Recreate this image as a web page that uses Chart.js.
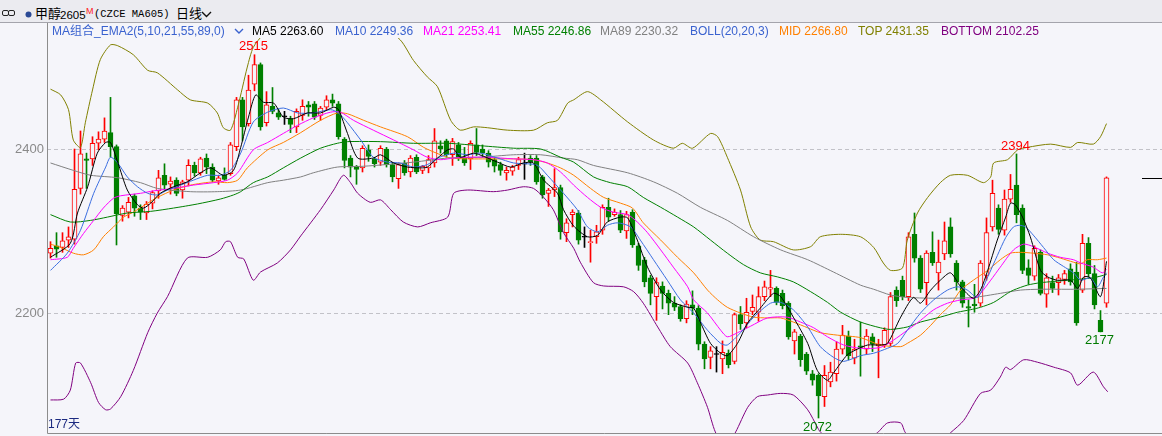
<!DOCTYPE html>
<html>
<head>
<meta charset="utf-8">
<script src="https://cdn.jsdelivr.net/npm/chart.js@4.4.1/dist/chart.umd.min.js"></script>
<style>
    body { margin: 0; background: #f5f5fa; }
    #wrap { position: relative; width: 1162px; height: 436px; overflow: hidden; font-family: "Liberation Sans", "Noto Sans CJK SC", sans-serif; }
    #c { position: absolute; left: 0; top: 0; }
    #topbar { position: absolute; left: 0; top: 0; width: 1162px; height: 22px; background: #ebebf0; border-bottom: 1px solid #a4a4ac; }
    #topbar span, .lg { position: absolute; white-space: nowrap; }
    #topbar span { top: 6px; line-height: 16px; font-size: 13px; color: #000; }
    .lg { top: 24px; line-height: 15px; font-size: 12px; }
    #days { position: absolute; left: 48px; top: 417px; font-size: 12px; line-height: 14px; color: #1c2a80; }
</style>
</head>
<body>
<div id="wrap">
    <canvas id="c" width="1162" height="436"></canvas>
    <div id="topbar">
        <svg style="position:absolute;left:2px;top:10px" width="13" height="6"><rect x="0.5" y="0.5" width="6" height="5" rx="1.5" fill="none" stroke="#222"/><rect x="6.5" y="0.5" width="6" height="5" rx="1.5" fill="none" stroke="#222"/></svg>
        <svg style="position:absolute;left:25px;top:11px" width="7" height="7"><circle cx="3.5" cy="3.5" r="3" fill="#2b4a96"/></svg>
        <span style="left:35px">甲醇</span>
        <span style="left:60px;top:7px;font-size:11.5px">2605</span>
        <span style="left:86px;top:3px;font-size:9px;color:#ff2020">M</span>
        <span style="left:94px;font-family:'Liberation Mono',monospace;font-size:10.5px">(CZCE MA605)</span>
        <span style="left:176px">日线</span>
        <svg style="position:absolute;left:201px;top:11px" width="11" height="7"><polyline points="1,1 5.5,5.5 10,1" fill="none" stroke="#111" stroke-width="1.4"/></svg>
    </div>
    <div id="legend"></div>
    <div id="days">177天</div>
</div>
<script>
// candles, index 0..176
const opens = [2273,2282,2280,2289,2290,2352,2388,2388,2407,2412,
    2420,2403,2319,2323,2343,2328,2322,2334,2349,2368,
    2357,2362,2350,2362,2380,2371,2389,2378,2361,2368,
    2370,2403,2460,2431,2479,2503,2432,2452,2444,2440,
    2437,2427,2441,2454,2455,2441,2451,2460,2455,2412,
    2389,2379,2377,2399,2388,2384,2400,2381,2364,2383,
    2372,2390,2374,2377,2383,2404,2410,2393,2405,2390,
    2388,2405,2400,2395,2387,2381,2371,2373,2380,2382,
    2389,2389,2366,2346,2350,2353,2298,2320,2322,2293,
    2286,2293,2301,2329,2320,2320,2300,2323,2282,2265,
    2243,2220,2233,2224,2212,2208,2193,2210,2206,2162,
    2146,2150,2144,2151,2141,2198,2188,2202,2201,2220,
    2229,2230,2224,2212,2166,2172,2150,2126,2124,2098,
    2116,2126,2156,2172,2145,2160,2156,2171,2160,2161,
    2163,2228,2240,2220,2296,2267,2237,2274,2249,2272,
    2305,2261,2238,2208,2211,2212,2246,2305,2328,2301,
    2339,2356,2328,2255,2245,2274,2223,2237,2237,2241,
    2254,2250,2228,2285,2248,2191,2212];
const highs = [2287,2298,2298,2305,2400,2422,2395,2415,2421,2438,
    2463,2405,2331,2341,2345,2332,2336,2349,2374,2382,
    2366,2365,2362,2387,2384,2390,2394,2382,2368,2377,
    2408,2463,2463,2490,2515,2505,2470,2475,2448,2446,
    2440,2449,2460,2458,2458,2452,2465,2467,2458,2414,
    2392,2380,2404,2405,2390,2404,2402,2383,2383,2386,
    2392,2393,2380,2392,2425,2410,2412,2413,2408,2402,
    2410,2425,2405,2398,2390,2384,2378,2380,2390,2395,
    2392,2392,2368,2352,2376,2356,2315,2326,2325,2305,
    2301,2307,2332,2340,2327,2325,2324,2326,2285,2268,
    2246,2243,2238,2228,2220,2210,2215,2227,2209,2165,
    2159,2159,2166,2155,2200,2208,2218,2222,2232,2239,
    2252,2232,2228,2214,2180,2174,2152,2130,2126,2136,
    2140,2165,2185,2178,2168,2189,2180,2175,2168,2182,
    2225,2232,2245,2298,2322,2270,2276,2299,2289,2311,
    2316,2264,2240,2216,2235,2264,2316,2362,2332,2350,
    2369,2394,2332,2265,2282,2277,2248,2245,2247,2252,
    2260,2262,2296,2292,2258,2203,2366];
const lows = [2267,2268,2274,2280,2284,2345,2352,2380,2399,2408,
    2390,2283,2312,2316,2318,2314,2314,2327,2340,2350,
    2345,2343,2340,2355,2367,2368,2370,2360,2357,2362,
    2368,2398,2410,2428,2471,2423,2428,2443,2436,2430,
    2420,2420,2435,2440,2436,2435,2448,2452,2412,2377,
    2366,2357,2372,2385,2378,2380,2378,2360,2352,2368,
    2366,2370,2370,2371,2378,2395,2390,2380,2386,2380,
    2375,2392,2390,2378,2372,2368,2362,2368,2375,2363,
    2380,2357,2340,2330,2342,2290,2287,2305,2284,2280,
    2262,2285,2296,2312,2318,2298,2291,2280,2252,2232,
    2210,2191,2205,2198,2203,2190,2188,2198,2155,2132,
    2132,2128,2126,2133,2138,2180,2182,2198,2190,2215,
    2220,2210,2205,2168,2150,2135,2125,2112,2072,2086,
    2110,2117,2150,2143,2138,2123,2150,2153,2121,2158,
    2160,2208,2216,2215,2262,2225,2210,2258,2228,2265,
    2268,2228,2207,2183,2201,2208,2240,2300,2296,2295,
    2335,2310,2248,2235,2240,2222,2207,2225,2222,2235,
    2234,2185,2225,2244,2205,2177,2207];
const closes = [2279,2278,2288,2293,2351,2394,2386,2407,2412,2422,
    2403,2321,2328,2335,2328,2323,2333,2347,2365,2356,
    2361,2346,2360,2380,2371,2388,2378,2362,2365,2363,
    2405,2460,2427,2472,2503,2427,2454,2446,2439,2440,
    2430,2446,2452,2451,2439,2450,2460,2456,2415,2386,
    2378,2375,2401,2391,2382,2401,2381,2366,2381,2371,
    2389,2372,2379,2387,2410,2400,2393,2409,2389,2383,
    2407,2396,2395,2384,2379,2374,2374,2378,2387,2382,
    2384,2360,2344,2350,2353,2299,2310,2323,2289,2293,
    2287,2299,2329,2317,2323,2301,2320,2283,2258,2238,
    2224,2237,2224,2212,2207,2193,2211,2206,2162,2144,
    2154,2150,2152,2137,2198,2187,2201,2207,2220,2232,
    2231,2213,2209,2171,2177,2143,2129,2118,2099,2124,
    2128,2156,2173,2148,2156,2158,2172,2162,2162,2179,
    2220,2215,2220,2293,2267,2229,2273,2261,2262,2288,
    2272,2238,2212,2206,2209,2261,2298,2346,2302,2339,
    2351,2320,2252,2246,2279,2224,2243,2230,2243,2248,
    2238,2188,2285,2248,2210,2177,2365];

// indicator lines: [candle index, price]
const ma5Pts = [[0,2268],[3.3,2285],[4.5,2322],[6.2,2354],[7.8,2395],[9.2,2408],[10,2408],[11.2,2384],[12.8,2350],[14.5,2332],[15.5,2328],[16.7,2334],[18.3,2346],[20.5,2354],[22.8,2360],[25,2371],[26.7,2377],[28.8,2368],[30.5,2374],[31.7,2402],[33,2439],[34.2,2466],[35.5,2457],[37.2,2456],[38.8,2439],[40.5,2437],[42.8,2444],[45,2444],[47.2,2451],[48,2448],[49.5,2419],[51.2,2389],[53.8,2389],[55,2393],[57.2,2383],[59.5,2378],[61.7,2377],[62.8,2378],[64.5,2389],[66.2,2399],[67.2,2400],[68.3,2390],[70.5,2395],[72.2,2391],[74.5,2384],[76.7,2378],[78.8,2383],[80.5,2383],[82.2,2362],[84.5,2346],[85.5,2326],[87.2,2306],[89.5,2293],[91.2,2295],[92.8,2311],[95,2317],[96.2,2316],[97.8,2289],[99.5,2256],[101.7,2228],[103.8,2213],[106.2,2207],[107.2,2206],[108.3,2189],[110,2163],[111.7,2151],[112.8,2148],[114.5,2163],[116.2,2188],[118.3,2206],[120.5,2224],[121.7,2220],[123.8,2195],[126.2,2163],[127.8,2130],[129.5,2118],[130.5,2127],[132.8,2149],[134.5,2156],[136.2,2161],[138.3,2161],[139.5,2163],[141.7,2195],[143.8,2219],[145,2212],[146.7,2228],[148.3,2240],[150,2249],[151.7,2232],[153.8,2218],[155,2228],[156.2,2252],[157.8,2289],[159.2,2317],[160,2334],[160.8,2332],[162,2317],[163.3,2293],[165,2252],[166.2,2244],[167.8,2240],[170,2240],[171.2,2230],[172.2,2244],[173.3,2243],[175,2220],[176,2263]];
const ma10Pts = [[0,2252],[2.8,2273],[5,2301],[7.2,2346],[9.2,2378],[10,2390],[11.2,2383],[12.8,2366],[14.5,2354],[16.2,2346],[17.8,2344],[19.5,2350],[21.7,2356],[23.8,2362],[26.2,2368],[28.3,2368],[30,2374],[31.7,2395],[33.8,2433],[36.2,2445],[38.8,2450],[41.2,2444],[43.8,2444],[46.7,2448],[48,2444],[49.5,2432],[51.7,2411],[53.8,2390],[56.2,2384],[58.3,2383],[60.5,2378],[62.8,2381],[64.5,2389],[67.2,2395],[69.5,2393],[71.7,2395],[74.5,2389],[77.2,2383],[79.5,2382],[81.2,2380],[82.8,2368],[85.5,2346],[87.8,2326],[89.5,2305],[91.2,2299],[92.8,2307],[94.5,2310],[96.7,2305],[98.3,2289],[100.5,2265],[102.8,2240],[105,2216],[107.2,2200],[109.5,2179],[111.7,2163],[112.8,2161],[115,2176],[117.2,2195],[120,2212],[121.7,2213],[123.8,2204],[126.2,2183],[128.3,2159],[130.5,2146],[132.2,2141],[135,2148],[137.2,2151],[139.5,2157],[141.2,2163],[142.8,2179],[145,2200],[147.2,2216],[149.5,2228],[151.2,2232],[152.8,2228],[154.5,2219],[156.2,2244],[157.8,2270],[159.2,2292],[160.5,2305],[161.5,2307],[162.5,2305],[163.8,2295],[165.5,2280],[167.2,2265],[168.8,2257],[170.5,2249],[171.7,2240],[173.3,2243],[174.5,2232],[175.5,2244],[176,2249]];
const ma21Pts = [[0,2265],[2.8,2268],[3.8,2279],[5.5,2297],[7.2,2313],[8.8,2328],[10.5,2340],[11.7,2343],[15,2346],[17.2,2349],[20.5,2352],[23.8,2356],[27.2,2359],[29.5,2362],[31.2,2371],[33.8,2399],[36.2,2408],[38.8,2419],[41.2,2429],[43.8,2438],[46.7,2445],[48.3,2445],[50.5,2435],[53.8,2423],[57.2,2411],[60.5,2399],[62.8,2390],[65,2387],[67.2,2389],[69.5,2390],[72.8,2390],[77.2,2388],[80.5,2387],[82.8,2383],[85,2372],[87.2,2356],[89.5,2341],[91.7,2329],[93.8,2323],[96.2,2320],[97.8,2311],[99.5,2298],[101.7,2277],[103.8,2256],[106.2,2232],[107.2,2216],[109.5,2200],[111.7,2179],[112.8,2171],[114.5,2176],[116.7,2184],[119.5,2194],[122.8,2195],[125,2189],[127.2,2182],[129.5,2171],[132.2,2161],[135,2157],[138.3,2158],[140.5,2167],[142.8,2179],[145,2191],[147.2,2204],[149.5,2212],[151.7,2216],[153.8,2218],[155,2224],[156.7,2240],[158.3,2256],[160.5,2277],[162.2,2284],[163.8,2281],[166.2,2273],[168.3,2268],[170.5,2265],[171.7,2261],[173.8,2256],[175.3,2249],[176,2253]];
const ma55Pts = [[0,2320],[3.3,2311],[6.7,2313],[9.5,2317],[12.8,2322],[16.7,2324],[20.5,2328],[24.5,2333],[28.3,2339],[30.5,2344],[31.7,2348],[33.8,2359],[36.2,2366],[38.8,2377],[41.7,2389],[45,2401],[47.8,2407],[49.5,2409],[55,2409],[60.5,2407],[66.2,2407],[71.7,2404],[77.2,2401],[81.7,2400],[85,2390],[87.2,2384],[90.5,2366],[93.3,2359],[96.2,2354],[98.8,2341],[101.7,2329],[104.5,2317],[107.2,2305],[110,2289],[112.8,2273],[115.5,2259],[118.3,2249],[121.2,2244],[123.8,2238],[126.7,2226],[129.5,2213],[131.7,2201],[135,2189],[138.3,2182],[140,2180],[142.8,2183],[145,2189],[148.3,2195],[151.2,2201],[153.3,2204],[155,2207],[157.2,2213],[159.5,2224],[160.5,2228],[162.8,2234],[165,2237],[169.5,2240],[173.8,2243],[176,2247]];
const ma89Pts = [[0,2383],[3.8,2374],[6.7,2368],[11.2,2365],[15,2359],[17.8,2352],[23.3,2348],[27.8,2348],[31.7,2350],[36.2,2359],[38.8,2362],[41.7,2366],[43.8,2371],[47.8,2378],[52.2,2379],[60.5,2384],[66.2,2389],[71.7,2390],[77.2,2393],[81.7,2393],[85.5,2389],[87.8,2387],[90.5,2380],[96.2,2371],[100.5,2360],[104.5,2346],[108.3,2329],[112.8,2313],[117.2,2293],[121.7,2277],[126.2,2265],[130.5,2250],[135,2234],[137.2,2229],[140,2222],[142.8,2219],[148.3,2218],[153.8,2219],[158.3,2224],[161.7,2228],[165,2229],[170.5,2229],[176,2230]];
const midPts = [[0,2284],[1.7,2280],[3.8,2273],[5.5,2271],[7.2,2277],[8.8,2293],[10.5,2305],[12.2,2317],[13.8,2323],[16.2,2334],[17.8,2341],[20.5,2350],[23.3,2356],[27.2,2360],[29.5,2359],[31.2,2362],[32.8,2377],[36.2,2399],[38.8,2408],[41.7,2420],[45,2435],[47.8,2444],[49.5,2443],[52.2,2435],[55,2427],[59.5,2415],[62.2,2402],[65,2393],[66.7,2389],[69.5,2388],[74.5,2388],[77.2,2388],[80.5,2387],[82.8,2383],[85,2377],[87.2,2368],[90,2352],[92.2,2341],[95,2334],[97,2328],[98.8,2310],[101.7,2289],[104.5,2268],[107.2,2249],[109.5,2228],[111.2,2216],[112.8,2207],[115,2200],[117.2,2195],[119.5,2194],[121.7,2194],[123.8,2189],[126.2,2182],[128.3,2176],[131.2,2173],[135,2170],[138.3,2161],[141.7,2159],[142.8,2163],[145,2173],[146.7,2185],[148.3,2198],[150,2210],[151.7,2228],[153.8,2240],[156.2,2252],[158.3,2265],[160,2273],[161.7,2274],[163.8,2273],[166.2,2271],[168.3,2267],[170.5,2262],[171.7,2260],[172.8,2265],[174.5,2265],[176,2267]];
const topPts = [[0,2473],[1.7,2466],[3,2448],[3.8,2411],[5,2402],[5.8,2432],[7,2472],[8.3,2509],[10,2527],[11.2,2526],[13.8,2515],[16.2,2496],[17.8,2493],[21.2,2472],[23.3,2460],[26.2,2456],[27.8,2444],[28.8,2426],[30,2423],[31.2,2451],[32.8,2500],[33.8,2524],[35.5,2540],[40,2570],[46.7,2578],[53.3,2562],[58.3,2533],[60.5,2508],[62.8,2488],[64.5,2476],[66.7,2435],[68.3,2423],[70.5,2427],[72.8,2426],[76.2,2423],[80.5,2423],[82.8,2432],[84.5,2435],[86.2,2456],[87.2,2460],[89.5,2470],[91.7,2460],[96.2,2433],[100.5,2411],[103.8,2401],[105.3,2407],[107,2401],[110,2419],[111.2,2415],[112.8,2390],[115,2350],[116.7,2305],[118.3,2289],[120.5,2287],[123.8,2277],[126.7,2281],[128.3,2293],[131.7,2296],[135,2293],[137.2,2280],[138.8,2261],[140,2252],[142,2255],[142.8,2289],[144.5,2322],[146.2,2341],[148.3,2359],[150,2368],[152.8,2368],[155.5,2359],[156.7,2366],[157.2,2383],[159.5,2387],[161.2,2399],[162.8,2402],[166.7,2406],[170,2402],[171.2,2408],[173.8,2406],[175,2415],[176,2431]];
const bottomPts = [[0,2094],[2.2,2095],[3.3,2106],[4.2,2139],[5,2139],[6.7,2115],[8,2091],[9.2,2082],[10,2083],[11.7,2098],[13.8,2130],[16.2,2176],[17.8,2200],[19.5,2220],[22.8,2267],[26.2,2268],[28.3,2277],[29.2,2287],[30,2287],[31.2,2268],[32.2,2266],[33.8,2240],[35,2250],[37.8,2261],[40,2277],[41.7,2294],[45,2326],[47.2,2350],[48.8,2368],[50,2359],[51.2,2346],[53.3,2335],[55,2338],[56.7,2326],[58.8,2311],[61.2,2305],[63.3,2310],[66.2,2317],[67.2,2346],[69.5,2350],[73.8,2348],[76.2,2350],[78.8,2354],[80.5,2352],[82.2,2341],[83.8,2326],[85.5,2298],[87.2,2279],[88.3,2262],[90.5,2237],[92.2,2233],[95.5,2232],[97.2,2226],[98.8,2212],[101.2,2183],[103.3,2159],[106.2,2139],[107.8,2115],[109.5,2085],[110.8,2055],[112.5,2035],[114.2,2055],[116.2,2085],[117.8,2098],[119.5,2100],[121.7,2102],[123.8,2100],[126.2,2082],[127.8,2061],[128.3,2055],[132.5,2030],[137.8,2054],[139.5,2066],[141.7,2066],[142.5,2054],[146.2,2030],[150,2054],[152.2,2069],[155,2102],[156.7,2106],[158.3,2122],[159.2,2134],[160,2131],[162.2,2143],[164.5,2140],[167.2,2134],[170,2127],[171.2,2112],[173.8,2128],[175.5,2110],[176.2,2104]];

const yTicks = [2200, 2400];
const markIdx = [34, 161, 128, 175];
const markIsHigh = [true, true, false, false];

const legendNames = ['MA组合_EMA2(5,10,21,55,89,0)', 'MA5', 'MA10', 'MA21', 'MA55', 'MA89', 'BOLL(20,20,3)', 'MID', 'TOP', 'BOTTOM'];
const legendValues = [null, '2263.60', '2249.36', '2253.41', '2246.86', '2230.32', null, '2266.80', '2431.35', '2102.25'];
const legendX = [52, 252, 335, 423, 513, 600, 690, 779, 858, 941];
const legendColors = ['#3a62cf', '#000000', '#3a62cf', '#ff00ff', '#008000', '#808080', '#3a62cf', '#ff8000', '#808000', '#800080'];

const UP = '#ff0000', DOWN = '#008000', FLAT = '#000000', BG = '#f5f5fa';
const X_MIN = -0.5 - 1 / 12;
const X_MAX = X_MIN + 1115 / 6;
const Y_MIN = 2053.7, Y_MAX = 2535.4;

const legendEl = document.getElementById('legend');
legendNames.forEach((name, i) => {
    const s = document.createElement('span');
    s.className = 'lg';
    s.style.left = legendX[i] + 'px';
    s.style.color = legendColors[i];
    s.textContent = legendValues[i] ? `${name} ${legendValues[i]}` : name;
    legendEl.appendChild(s);
});
legendEl.insertAdjacentHTML('beforeend', '<svg style="position:absolute;left:234px;top:28px" width="10" height="7"><polyline points="1,1 5,5 9,1" fill="none" stroke="#3a62cf" stroke-width="1.4"/></svg>');

function candleColor(i) {
    if (closes[i] > opens[i]) return UP;
    if (closes[i] < opens[i]) return DOWN;
    return FLAT;
}

const bodies = opens.map((o, i) => {
    let lo = Math.min(o, closes[i]), hi = Math.max(o, closes[i]);
    if (hi - lo < 1.2) { const m = (hi + lo) / 2; lo = m - 0.6; hi = m + 0.6; }
    return { x: i, y: [lo, hi] };
});
const wicks = highs.map((h, i) => ({ x: i, y: [lows[i], h] }));

function lineSet(pts, color) {
    return { type: 'line', data: pts.map(p => ({ x: p[0], y: p[1] })), borderColor: color, borderWidth: 1, pointRadius: 0, tension: 0.25, fill: false, order: 0 };
}

const framePlugin = {
    id: 'frame',
    afterDatasetsDraw(chart) {
        const { ctx, chartArea: a, scales: { x, y } } = chart;
        ctx.save();
        ctx.strokeStyle = '#8c8c8c';
        ctx.lineWidth = 1;
        ctx.beginPath();
        ctx.moveTo(a.left + 0.5, 23);
        ctx.lineTo(a.left + 0.5, a.bottom + 0.5);
        ctx.lineTo(a.right, a.bottom + 0.5);
        ctx.stroke();

        const last = closes.length - 1;
        const py = Math.round(y.getPixelForValue(closes[last])) + 0.5;
        ctx.strokeStyle = '#000';
        ctx.beginPath();
        ctx.moveTo(a.right - 20, py);
        ctx.lineTo(a.right, py);
        ctx.stroke();

        ctx.font = '13px "Liberation Sans"';
        ctx.textAlign = 'center';
        ctx.textBaseline = 'middle';
        markIdx.forEach((i, k) => {
            const hi = markIsHigh[k];
            const v = hi ? highs[i] : lows[i];
            ctx.fillStyle = hi ? '#ff0000' : '#007a00';
            ctx.fillText(String(v), x.getPixelForValue(i) - 1, y.getPixelForValue(v) + (hi ? -8 : 9));
        });
        ctx.restore();
    }
};

new Chart(document.getElementById('c'), {
    type: 'bar',
    data: {
        datasets: [
            lineSet(ma5Pts, '#000000'),
            lineSet(ma10Pts, '#3b6ee0'),
            lineSet(ma21Pts, '#ff00ff'),
            lineSet(ma55Pts, '#008000'),
            lineSet(ma89Pts, '#808080'),
            lineSet(midPts, '#ff8000'),
            lineSet(topPts, '#808000'),
            lineSet(bottomPts, '#800080'),
            {
                data: bodies, order: 1, barThickness: 5, grouped: false, borderWidth: 1, borderSkipped: false,
                backgroundColor: c => (closes[c.dataIndex] > opens[c.dataIndex] ? BG : candleColor(c.dataIndex)),
                borderColor: c => candleColor(c.dataIndex)
            },
            {
                data: wicks, order: 2, barThickness: 1, grouped: false, borderWidth: 0,
                backgroundColor: c => candleColor(c.dataIndex)
            }
        ]
    },
    options: {
        responsive: false,
        animation: false,
        events: [],
        layout: { padding: { top: 38, bottom: 3, left: 0, right: 0 } },
        plugins: { legend: { display: false }, tooltip: { enabled: false } },
        scales: {
            x: { type: 'linear', min: X_MIN, max: X_MAX, offset: false, bounds: 'ticks', display: false },
            y: {
                min: Y_MIN, max: Y_MAX,
                afterFit(s) { s.width = 47; s.paddingTop = 0; s.paddingBottom = 0; },
                afterBuildTicks(s) { s.ticks = yTicks.map(v => ({ value: v })); },
                ticks: { color: '#8a8a8a', padding: 3, font: { size: 13, family: 'Liberation Sans' }, callback: v => String(v) },
                grid: { color: '#c2c2c8', drawTicks: false },
                border: { display: false, dash: [4, 3] }
            }
        }
    },
    plugins: [framePlugin]
});
</script>
</body>
</html>
